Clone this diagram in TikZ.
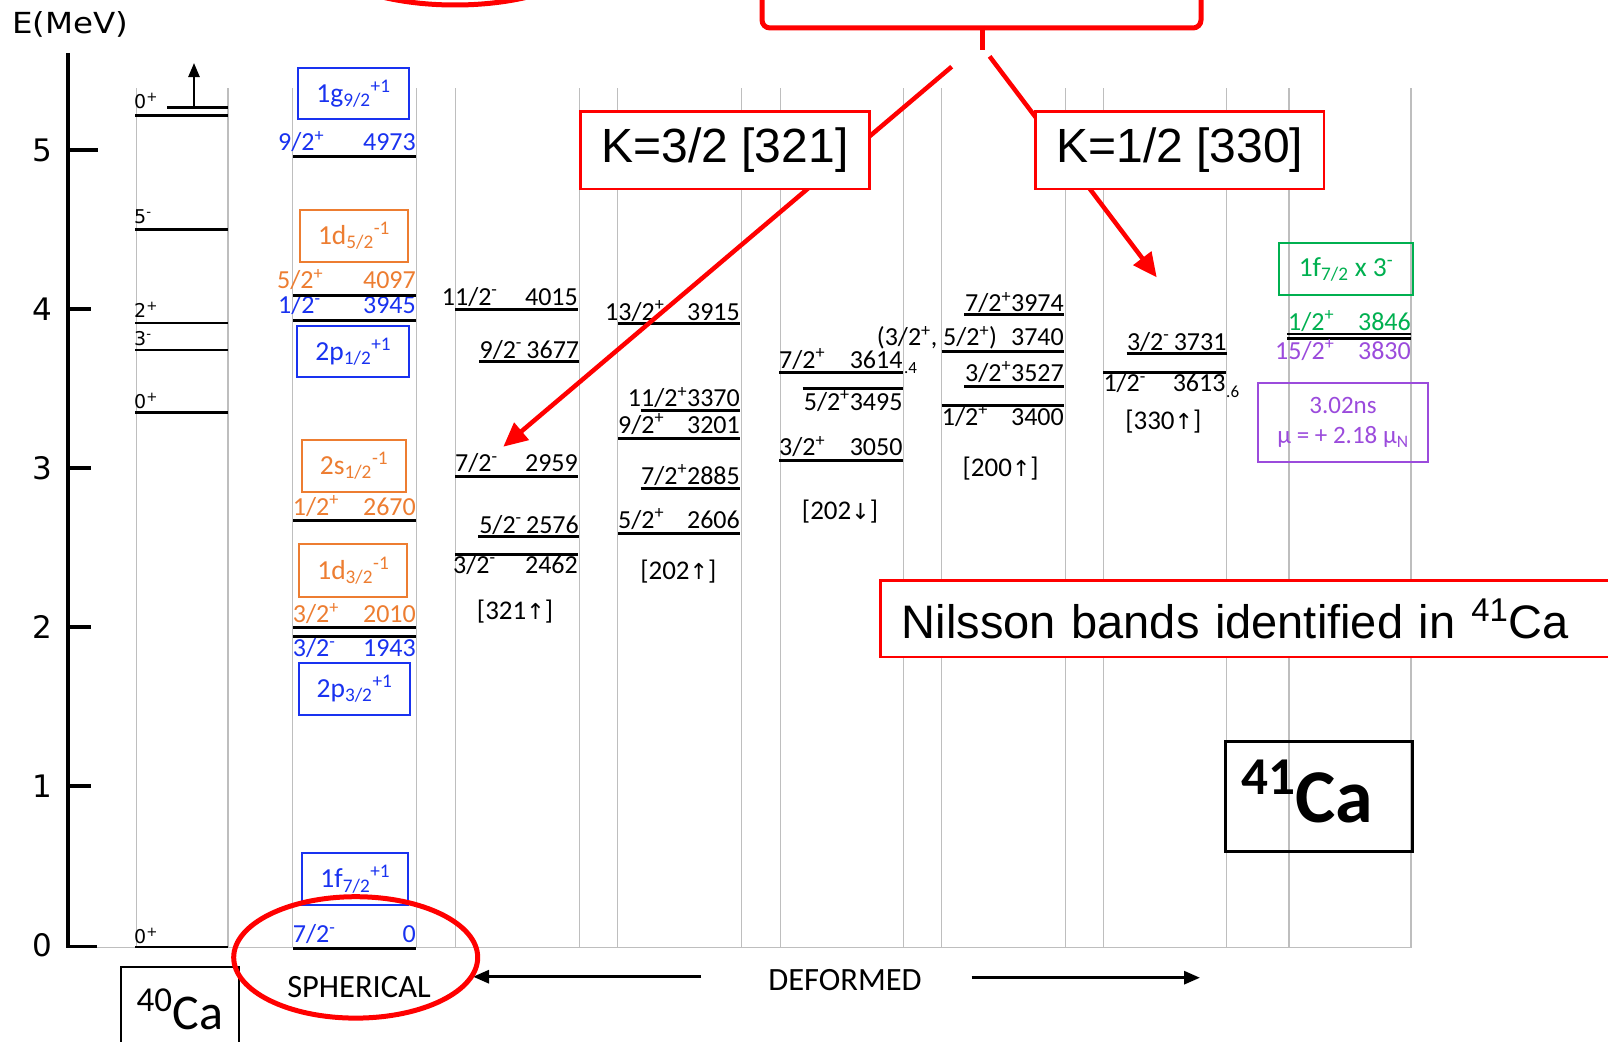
\RequirePackage{fix-cm}
\documentclass[tikz,border=0pt]{standalone}
\usepackage{fontspec}
\setmainfont{Carlito}
\newfontfamily\arialf{Liberation Sans}
\newfontfamily\dvs{DejaVu Sans}
\usetikzlibrary{arrows.meta}
\definecolor{sblue}{RGB}{25,50,240}
\definecolor{sorange}{RGB}{237,125,49}
\definecolor{sgreen}{RGB}{0,176,80}
\definecolor{spurple}{RGB}{155,75,220}
\definecolor{sred}{RGB}{255,0,0}
\definecolor{sgrey}{RGB}{190,190,190}
\newcommand\jp[2]{#1\textsuperscript{#2}}
\newcommand\upa{{\dvs\fontsize{22}{26}\selectfont ↑}}
\newcommand\dna{{\dvs\fontsize{22}{26}\selectfont ↓}}
% \lvtwo{name}{liney}{x1}{x2}{base}{Jx}{J}{Ex}{E}
\newcommand\lvtwo[9]{%
  \draw[lv] (#3,#2) -- (#4,#2);
  \node[lab,anchor=base west] (#1j) at (#6,#5) {#7};
  \node[lab,anchor=base east] (#1e) at (#8,#5) {#9};}
% \lvone{name}{liney}{x1}{x2}{base}{Ex}{text}
\newcommand\lvone[7]{%
  \draw[lv] (#3,#2) -- (#4,#2);
  \node[lab,anchor=base east] (#1) at (#6,#5) {#7};}
\tikzset{
 gl/.style={draw=sgrey, line width=1.6},
 lv/.style={draw=black, line width=3},
 cal/.style={draw=black, line width=2.5},
 lab/.style={inner sep=0, font=\fontsize{26}{30}\selectfont},
 clab/.style={inner sep=0, font=\dvs\fontsize{19}{22}\selectfont},
 axn/.style={inner sep=0, font=\dvs\fontsize{31}{35}\selectfont},
 slab/.style={inner sep=0, font=\fontsize{17}{20}\selectfont},
 blab/.style={inner sep=0, font=\fontsize{27}{32}\selectfont},
 sbox/.style={line width=2, inner sep=0, font=\fontsize{27.5}{32}\selectfont},
 kbox/.style={draw=sred, line width=2.5, fill=white, inner sep=0, font=\arialf\fontsize{48}{56}\selectfont},
 redarrow/.style={draw=sred, line width=4.5, -{Triangle[length=24pt,width=22pt]}},
 redline/.style={draw=sred, line width=5},
 axisl/.style={draw=black, line width=4.5},
 blackarrow/.style={draw=black, line width=3, -{Triangle[length=16pt,width=13pt]}},
 smallarrow/.style={draw=black, line width=2.5, -{Triangle[length=14pt,width=11pt]}},
 bigtext/.style={inner sep=0, font=\fontsize{32.5}{36}\selectfont},
}
\begin{document}
\begin{tikzpicture}[x=1pt,y=-1pt]
\useasboundingbox (0,0) rectangle (1608,1041);
\fill[white] (0,0) rectangle (1608,1041);
% grid columns
\foreach \x in {136.4,227.7,292.3,416.4,455.3,579.4,617.4,741.4,780.4,903.5,941.4,1065.5,1103.4,1226.5,1289.1,1411.1}
  \draw[gl] (\x,88) -- (\x,947.5);
\draw[gl] (68,947.5) -- (1411.1,947.5);
% axis
\draw[axisl] (68,53) -- (68,947);
\draw[axisl] (68,150) -- (98,150);
\foreach \yy in {309,468,627,786} \draw[axisl] (68,\yy) -- (91,\yy);
\draw[black, line width=3] (66,946) -- (97,946);
\node[axn] (t5) at (42,150) {5};
\node[axn] (t4) at (42,309) {4};
\node[axn] (t3) at (42,468) {3};
\node[axn] (t2) at (42,627) {2};
\node[axn] (t1) at (42,786) {1};
\node[axn] (t0) at (42,945.5) {0};
\node[inner sep=0, anchor=base west, font=\dvs\fontsize{29}{33}\selectfont] (emev) at (12,33.8) {\scalebox{1.12}[1]{E(MeV)}};
% 40Ca levels
\draw[cal] (135,115.3) -- (228,115.3);
\draw[cal] (167,107.7) -- (228,107.7);
\coordinate (caup) at (194,107.7);
\coordinate (cauptip) at (194,63);
\draw[smallarrow] (caup) -- (cauptip);
\draw[cal] (135,229.3) -- (228,229.3);
\draw[cal] (135,323) -- (228,323);
\draw[cal] (135,350) -- (228,350);
\draw[cal] (135,412.5) -- (228,412.5);
\draw[cal] (135,947) -- (228,947);
\node[clab, anchor=base west] (c0a) at (134,108) {\jp{0}{+}};
\node[clab, anchor=base west] (c5) at (134,223) {\jp{5}{-}};
\node[clab, anchor=base west] (c2) at (134,317) {\jp{2}{+}};
\node[clab, anchor=base west] (c3) at (134,345) {\jp{3}{-}};
\node[clab, anchor=base west] (c0b) at (134,408) {\jp{0}{+}};
\node[clab, anchor=base west] (c0c) at (134,943) {\jp{0}{+}};
% spherical levels
\begin{scope}[lab/.append style={text=sblue}]
\lvtwo{s4973}{156}{293}{416}{150.5}{278}{\jp{9/2}{+}}{416}{4973}
\lvtwo{s3945}{320}{293}{416}{313.5}{278}{\jp{1/2}{-}}{416}{3945}
\lvtwo{s1943}{636.7}{293}{416}{656.5}{292.7}{\jp{3/2}{-}}{416}{1943}
\lvtwo{s0}{948}{293}{416}{942.5}{292.7}{\jp{7/2}{-}}{416}{0}
\end{scope}
\begin{scope}[lab/.append style={text=sorange}]
\lvtwo{s4097}{295}{293}{416}{288.5}{277}{\jp{5/2}{+}}{416}{4097}
\lvtwo{s2670}{520.7}{293}{416}{515}{292.7}{\jp{1/2}{+}}{416}{2670}
\lvtwo{s2010}{627.7}{293}{416}{622.7}{292.7}{\jp{3/2}{+}}{416}{2010}
\end{scope}
% spherical boxes
\node[sbox, draw=sblue, text=sblue, minimum width=111, minimum height=51] (g92) at (353.5,93.5) {1g\textsubscript{9/2}\textsuperscript{+1}};
\node[sbox, draw=sorange, text=sorange, minimum width=108, minimum height=52] (d52) at (354,236) {1d\textsubscript{5/2}\textsuperscript{-1}};
\node[sbox, draw=sblue, text=sblue, minimum width=112, minimum height=51.6] (p12) at (353.3,351.5) {2p\textsubscript{1/2}\textsuperscript{+1}};
\node[sbox, draw=sorange, text=sorange, minimum width=104.6, minimum height=52] (s12) at (354,465.7) {2s\textsubscript{1/2}\textsuperscript{-1}};
\node[sbox, draw=sorange, text=sorange, minimum width=108, minimum height=52.7] (d32) at (353.3,570.3) {1d\textsubscript{3/2}\textsuperscript{-1}};
\node[sbox, draw=sblue, text=sblue, minimum width=111.6, minimum height=51.4] (p32) at (354.5,689) {2p\textsubscript{3/2}\textsuperscript{+1}};
\node[sbox, draw=sblue, text=sblue, minimum width=106, minimum height=51.7] (f72) at (355.3,879.2) {1f\textsubscript{7/2}\textsuperscript{+1}};
% band [321 up]
\lvtwo{a4015}{309}{455}{578}{305}{441.7}{\jp{11/2}{-}}{578}{4015}
\lvone{a3677}{361.7}{479.3}{579.3}{358.3}{579.3}{\jp{9/2}{-}\,3677}
\lvtwo{a2959}{476.7}{455}{578}{471.6}{455}{\jp{7/2}{-}}{578}{2959}
\lvone{a2576}{536.7}{478}{579}{533.3}{579}{\jp{5/2}{-}\,2576}
\lvtwo{a2462}{554.3}{455}{578}{573.3}{453}{\jp{3/2}{-}}{578}{2462}
\node[blab] (b321) at (515,611.7) {[321\upa]};
% band [202 up]
\lvtwo{b3915}{323.3}{618}{740}{320}{605}{\jp{13/2}{+}}{740}{3915}
\lvone{b3370}{410.7}{640.7}{740}{406.6}{740}{\jp{11/2}{+}3370}
\lvtwo{b3201}{438.3}{618}{740}{433.3}{618}{\jp{9/2}{+}}{740}{3201}
\lvone{b2885}{488.3}{640.7}{740}{484.3}{740}{\jp{7/2}{+}2885}
\lvtwo{b2606}{533.3}{618}{740}{528.3}{618}{\jp{5/2}{+}}{740}{2606}
\node[blab] (b202u) at (678.3,571.7) {[202\upa]};
% band [202 down]
\lvtwo{c3614}{372.7}{779.3}{902.7}{368.3}{779}{\jp{7/2}{+}}{902.7}{3614}
\node[slab, anchor=base west] (c3614d) at (904,373) {.4};
\lvone{c3495}{388.3}{802.7}{902.7}{410}{902.7}{\jp{5/2}{+}3495}
\lvtwo{c3050}{460.7}{779}{902.7}{455.6}{779}{\jp{3/2}{+}}{902.7}{3050}
\node[blab] (b202d) at (840,511.7) {[202\dna]};
% band [200 up]
\lvone{d3974}{314}{964.3}{1064}{311.6}{1064}{\jp{7/2}{+}3974}
\lvtwo{d3740}{351.7}{941.7}{1064}{345.6}{876.7}{(\jp{3/2}{+}, \jp{5/2}{+})}{1064}{3740}
\lvone{d3527}{386}{964}{1064}{381}{1064}{\jp{3/2}{+}3527}
\lvtwo{d3400}{405}{941.7}{1064}{425}{941.7}{\jp{1/2}{+}}{1064}{3400}
\node[blab] (b200u) at (1000.7,468.3) {[200\upa]};
% band [330 up]
\lvone{e3731}{353.3}{1126.7}{1226.7}{350}{1226.7}{\jp{3/2}{-}\,3731}
\lvtwo{e3613}{372.3}{1103.3}{1226}{391.6}{1103.3}{\jp{1/2}{-}}{1225.7}{3613}
\node[slab, anchor=base west] (e3613d) at (1226,397) {.6};
\node[blab] (b330u) at (1163.3,421.7) {[330\upa]};
% right column
\draw[black, line width=2.5] (1287.3,334) -- (1411,334);
\draw[black, line width=2.5] (1287.3,338.7) -- (1411,338.7);
\node[lab, text=sgreen, anchor=base west] (r3846j) at (1288,330) {\jp{1/2}{+}};
\node[lab, text=sgreen, anchor=base east] (r3846e) at (1411,330) {3846};
\node[lab, text=spurple, anchor=base west] (r3830j) at (1275,359.3) {\jp{15/2}{+}};
\node[lab, text=spurple, anchor=base east] (r3830e) at (1411,359.3) {3830};
\node[sbox, draw=sgreen, text=sgreen, minimum width=133.4, minimum height=51.7] (f3) at (1346,269.2) {1f\textsubscript{7/2} x 3\textsuperscript{-}};
\node[sbox, draw=spurple, text=spurple, minimum width=170.6, minimum height=78.4, align=center, font=\fontsize{25}{30}\selectfont] (mubox) at (1343,422.5) {3.02ns\\μ = + 2.18 μ\textsubscript{N}};
% bottom labels
\node[draw=black, line width=2, minimum width=118, minimum height=84, inner sep=0, font=\fontsize{50}{56}\selectfont] (ca40) at (180,1009) {\textsuperscript{40}Ca};
\node[bigtext] (sph) at (359,986.7) {SPHERICAL};
\node[bigtext] (def) at (845,980) {DEFORMED};
\coordinate (defl0) at (701,976.7);
\coordinate (defl1) at (473,976.7);
\coordinate (defr0) at (971.6,977.7);
\coordinate (defr1) at (1200,977.7);
\draw[blackarrow] (defl0) -- (defl1);
\draw[blackarrow] (defr0) -- (defr1);
% 41Ca box
\node[draw=black, line width=3, minimum width=187, minimum height=110, inner sep=0] (ca41box) at (1318.5,796.7) {};
\node[inner sep=0, font=\bfseries\fontsize{76}{80}\selectfont, anchor=base west] (ca41) at (1241,822) {\textsuperscript{41}Ca};
% Nilsson box
\node[draw=sred, line width=2.5, fill=white, anchor=west, minimum height=76.5, text width=720, inner xsep=21.5, inner ysep=0, align=left, font=\arialf\fontsize{47}{56}\selectfont] (nils) at (879,618.8) {Nilsson bands identified in \textsuperscript{41}Ca};
% red annotations
\begin{scope}
\clip (0,0) rectangle (1608,1041);
\draw[redline] (455,-50) ellipse (140 and 55);
\draw[redline, rounded corners=8] (762,-10) -- (762,28) -- (1201,28) -- (1201,-10);
\draw[redline] (982,26) -- (982,50);
\end{scope}
\coordinate (brL) at (951.7,66.7);
\coordinate (tipL) at (503.3,446.7);
\coordinate (brR) at (989.6,56.4);
\coordinate (tipR) at (1156.7,277.3);
\draw[redarrow] (brL) -- (tipL);
\draw[redarrow] (brR) -- (tipR);
\node[kbox, minimum width=289.3, minimum height=77.3] (k321) at (725,150.3) {K=3/2 [321]};
\node[kbox, minimum width=288.2, minimum height=77.3] (k330) at (1179.7,150.3) {K=1/2 [330]};
\draw[redline] (355.7,957.4) ellipse (122 and 60.7);
\end{tikzpicture}
\end{document}
